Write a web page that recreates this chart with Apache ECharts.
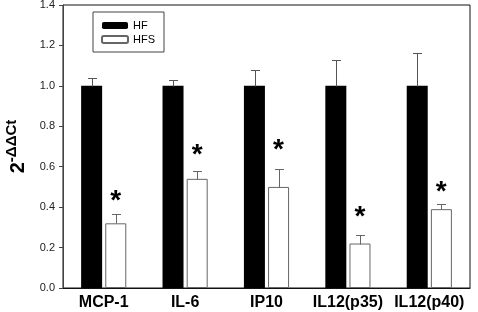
<!DOCTYPE html>
<html>
<head>
<meta charset="utf-8">
<script src="https://cdn.jsdelivr.net/npm/echarts@6/dist/echarts.min.js"></script>
<style>
html, body { margin: 0; padding: 0; background: #fff; }
#chart { width: 478px; height: 312px; }
</style>
</head>
<body>
<div id="chart"></div>
<script>
// data
var categories = ['MCP-1', 'IL-6', 'IP10', 'IL12(p35)', 'IL12(p40)'];
var hfValues = [1.0, 1.0, 1.0, 1.0, 1.0];
var hfErrTop = [1.04, 1.03, 1.08, 1.13, 1.165];
var hfsValues = [0.32, 0.54, 0.50, 0.22, 0.39];
var hfsErrTop = [0.366, 0.58, 0.59, 0.26, 0.415];
var starLevel = [0.448, 0.677, 0.703, 0.372, 0.493]; // asterisk centres
var yTicks = [0, 0.2, 0.4, 0.6, 0.8, 1.0, 1.2, 1.4];

var BAR_W = 21;
var OFFSET = 12; // half bar + half gap

function errBar(offset, color) {
    return function (params, api) {
        var i = api.value(0);
        var base = api.coord([i, api.value(1)]);
        var top = api.coord([i, api.value(2)]);
        var x = Math.round(base[0] + offset) + 0.5;
        var y0 = Math.round(base[1]) + 0.5;
        var y1 = Math.round(top[1]) + 0.5;
        var style = { stroke: color, lineWidth: 1 };
        return {
            type: 'group',
            children: [
                { type: 'line', shape: { x1: x, y1: y0, x2: x, y2: y1 }, style: style },
                { type: 'line', shape: { x1: x - 4.5, y1: y1, x2: x + 4.5, y2: y1 }, style: style }
            ]
        };
    };
}

var myChart = echarts.init(document.getElementById('chart'));
myChart.setOption({
    animation: false,
    backgroundColor: '#fff',
    textStyle: { fontFamily: 'Arial, "Liberation Sans", sans-serif' },
    grid: {
        left: 63,
        right: 8,
        top: 5,
        bottom: 24,
        outerBoundsMode: 'none',
        containLabel: false,
        show: true,
        borderColor: '#111',
        borderWidth: 1
    },
    legend: {
        data: ['HF', 'HFS'],
        orient: 'vertical',
        left: 93,
        top: 12,
        itemWidth: 26,
        itemHeight: 7,
        itemGap: 3,
        padding: [8, 9, 7, 8],
        borderColor: '#444',
        borderWidth: 1,
        selectedMode: false,
        textStyle: { fontSize: 11, color: '#000' }
    },
    xAxis: {
        type: 'category',
        data: categories,
        axisTick: { show: false },
        axisLine: { lineStyle: { color: '#111', width: 1 } },
        axisLabel: {
            interval: 0,
            margin: 7,
            fontSize: 16,
            fontWeight: 'bold',
            color: '#000'
        }
    },
    yAxis: {
        type: 'value',
        min: yTicks[0],
        max: yTicks[yTicks.length - 1],
        interval: 0.2,
        splitLine: { show: false },
        axisLine: { show: true, lineStyle: { color: '#444' } },
        axisTick: { show: true, length: 4, lineStyle: { color: '#444' } },
        axisLabel: {
            margin: 8,
            fontSize: 11,
            color: '#222',
            formatter: function (v) { return v.toFixed(1); }
        },
        name: '{a|2}{b|-ΔΔCt}',
        nameLocation: 'middle',
        nameRotate: 90,
        nameGap: 33,
        nameTextStyle: {
            rich: {
                a: { fontSize: 20, fontWeight: 'bold', color: '#000', lineHeight: 24, verticalAlign: 'bottom' },
                b: { fontSize: 15, fontWeight: 'bold', color: '#000', lineHeight: 24, verticalAlign: 'top' }
            }
        }
    },
    series: [
        {
            name: 'HF',
            type: 'bar',
            barWidth: BAR_W,
            barGap: '15%',
            itemStyle: { color: '#000' },
            data: hfValues
        },
        {
            name: 'HFS',
            type: 'bar',
            barWidth: BAR_W,
            barGap: '15%',
            itemStyle: { color: '#fff', borderColor: '#666', borderWidth: 1 },
            data: hfsValues
        },
        {
            type: 'custom',
            renderItem: errBar(-OFFSET, '#555'),
            encode: { x: 0, y: 2 },
            z: 5,
            data: categories.map(function (c, i) { return [i, hfValues[i], hfErrTop[i]]; })
        },
        {
            type: 'custom',
            renderItem: errBar(OFFSET, '#666'),
            encode: { x: 0, y: 2 },
            z: 5,
            data: categories.map(function (c, i) { return [i, hfsValues[i], hfsErrTop[i]]; })
        },
        {
            type: 'custom',
            renderItem: function (params, api) {
                var p = api.coord([api.value(0), api.value(1)]);
                return {
                    type: 'text',
                    style: {
                        text: '*',
                        x: p[0] + OFFSET,
                        y: p[1] + 18,
                        textAlign: 'center',
                        textVerticalAlign: 'bottom',
                        fontSize: 28,
                        fontWeight: 'bold',
                        fontFamily: 'Arial, "Liberation Sans", sans-serif',
                        fill: '#000'
                    }
                };
            },
            z: 5,
            data: categories.map(function (c, i) { return [i, starLevel[i]]; })
        }
    ]
});
</script>
</body>
</html>
